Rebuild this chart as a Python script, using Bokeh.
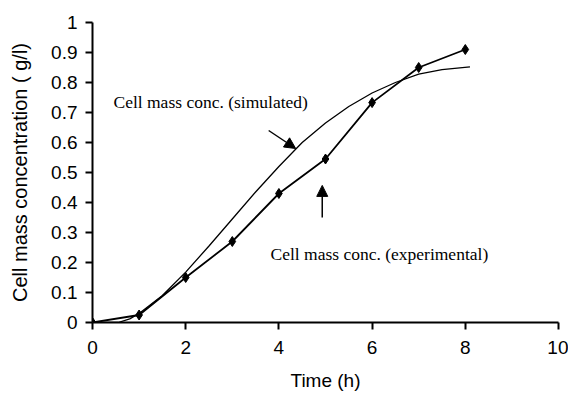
from bokeh.plotting import figure
from bokeh.models import Range1d, FixedTicker, CustomJSTickFormatter, Arrow, NormalHead, Label
from bokeh.embed import file_html
from bokeh.resources import INLINE

# Experimental data
exp_t = [0, 1, 2, 3, 4, 5, 6, 7, 8]
exp_y = [0.0, 0.025, 0.15, 0.27, 0.43, 0.545, 0.733, 0.85, 0.91]

# Simulated curve
sim_t = [0, 0.55, 0.8, 1.0, 1.5, 2.0, 2.5, 3.0, 3.5, 4.0, 4.5, 5.0, 5.5, 6.0, 6.5, 7.0, 7.5, 8.1]
sim_y = [0.0, 0.0, 0.012, 0.03, 0.09, 0.168, 0.255, 0.345, 0.435, 0.52, 0.60, 0.665, 0.72, 0.765, 0.80, 0.828, 0.843, 0.852]

x_ticks = [0, 2, 4, 6, 8, 10]
y_ticks = [0, 0.1, 0.2, 0.3, 0.4, 0.5, 0.6, 0.7, 0.8, 0.9, 1.0]

label_sim = "Cell mass conc. (simulated)"
label_exp = "Cell mass conc. (experimental)"

p = figure(width=568, height=394, output_backend="svg", toolbar_location=None,
           x_range=Range1d(0, 10), y_range=Range1d(0, 1))
p.min_border_left = 92
p.min_border_right = 10
p.min_border_top = 22
p.min_border_bottom = 72
p.outline_line_color = None
p.xgrid.visible = False
p.ygrid.visible = False
p.background_fill_color = "white"
p.border_fill_color = "white"

for ax in (p.xaxis[0], p.yaxis[0]):
    ax.axis_line_width = 2
    ax.axis_line_color = "black"
    ax.major_tick_line_width = 2
    ax.major_tick_line_color = "black"
    ax.major_tick_out = 7
    ax.major_tick_in = 0
    ax.minor_tick_line_color = None
    ax.major_label_text_font = "Liberation Sans"
    ax.major_label_text_font_size = "19px"
    ax.major_label_text_color = "black"
    ax.axis_label_text_font = "Liberation Sans"
    ax.axis_label_text_font_style = "normal"
    ax.axis_label_text_color = "black"

p.xaxis.ticker = FixedTicker(ticks=x_ticks)
p.yaxis.ticker = FixedTicker(ticks=y_ticks)
p.yaxis.formatter = CustomJSTickFormatter(code="return Number(tick.toFixed(1)).toString();")
p.xaxis.axis_label = "Time (h)"
p.yaxis.axis_label = "Cell mass concentration ( g/l)"
p.xaxis.axis_label_text_font_size = "19px"
p.yaxis.axis_label_text_font_size = "20px"
p.xaxis.major_label_standoff = 11
p.yaxis.major_label_standoff = 8
p.xaxis.axis_label_standoff = 13
p.yaxis.axis_label_standoff = 17

p.line(sim_t, sim_y, line_color="black", line_width=1.3)
p.line(exp_t, exp_y, line_color="black", line_width=1.8)
p.scatter(exp_t, exp_y, marker="diamond", size=10, fill_color="black", line_color="black")

p.add_layout(Arrow(end=NormalHead(size=11, fill_color="black", line_color="black"),
                   x_start=3.78, y_start=0.64, x_end=4.36, y_end=0.58,
                   line_color="black", line_width=1.5))
p.add_layout(Arrow(end=NormalHead(size=11, fill_color="black", line_color="black"),
                   x_start=4.93, y_start=0.35, x_end=4.93, y_end=0.457,
                   line_color="black", line_width=1.5))

p.add_layout(Label(x=0.45, y=0.735, text=label_sim, text_font="Liberation Serif",
                   text_font_size="17.5px", text_color="black", text_baseline="alphabetic"))
p.add_layout(Label(x=3.82, y=0.227, text=label_exp, text_font="Liberation Serif",
                   text_font_size="17.5px", text_color="black", text_baseline="alphabetic"))

open("out.html", "w").write(file_html(p, INLINE))
